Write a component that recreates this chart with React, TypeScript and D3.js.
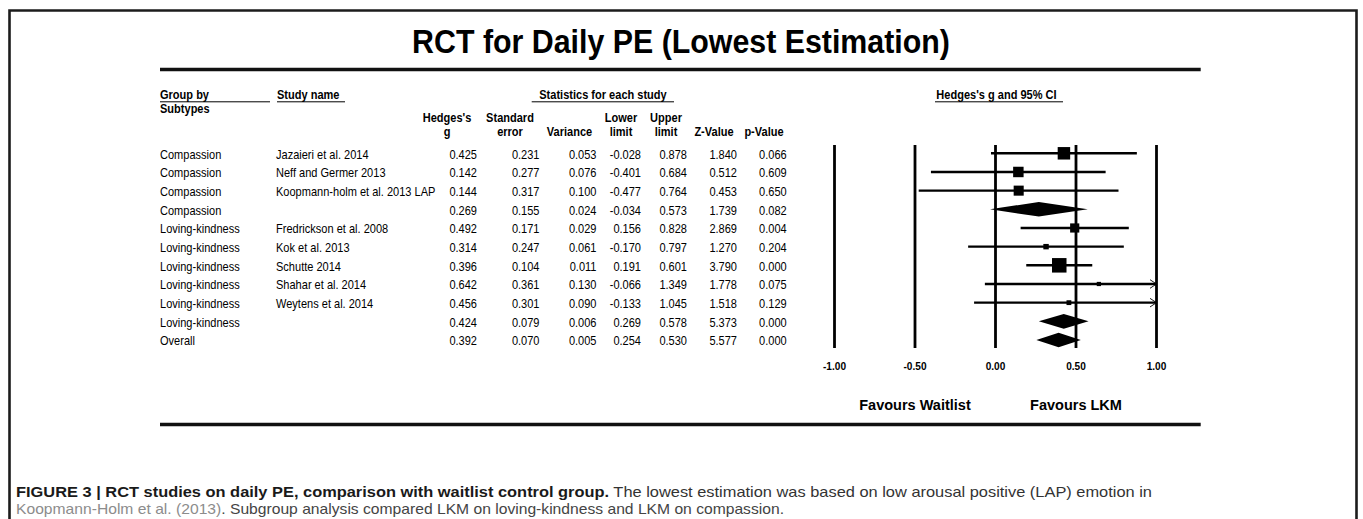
import React from 'react';
import * as d3 from 'd3';

// Rows as printed by the meta-analysis table (subgroup totals have no study name)
const groups = ['Compassion', 'Compassion', 'Compassion', 'Compassion', 'Loving-kindness', 'Loving-kindness', 'Loving-kindness', 'Loving-kindness', 'Loving-kindness', 'Loving-kindness', 'Overall'];
const studies = ['Jazaieri et al. 2014', 'Neff and Germer 2013', 'Koopmann-holm et al. 2013 LAP', '', 'Fredrickson et al. 2008', 'Kok et al. 2013', 'Schutte 2014', 'Shahar et al. 2014', 'Weytens et al. 2014', '', ''];
const hedgesG = [0.425, 0.142, 0.144, 0.269, 0.492, 0.314, 0.396, 0.642, 0.456, 0.424, 0.392];
const stdErr = [0.231, 0.277, 0.317, 0.155, 0.171, 0.247, 0.104, 0.361, 0.301, 0.079, 0.070];
const variance = [0.053, 0.076, 0.100, 0.024, 0.029, 0.061, 0.011, 0.130, 0.090, 0.006, 0.005];
const lowerLimit = [-0.028, -0.401, -0.477, -0.034, 0.156, -0.170, 0.191, -0.066, -0.133, 0.269, 0.254];
const upperLimit = [0.878, 0.684, 0.764, 0.573, 0.828, 0.797, 0.601, 1.349, 1.045, 0.578, 0.530];
const zValue = [1.840, 0.512, 0.453, 1.739, 2.869, 1.270, 3.790, 1.778, 1.518, 5.373, 5.577];
const pValue = [0.066, 0.609, 0.650, 0.082, 0.004, 0.204, 0.000, 0.075, 0.129, 0.000, 0.000];
// relative study weight (box size); 0 = summary diamond
const boxWeight = [7.4, 5.2, 4.8, 0, 4.0, 1.4, 10, 0.85, 1.1, 0, 0];

const axisTicks = [-1, -0.5, 0, 0.5, 1];
const favourLabels = [{ at: -0.5, text: 'Favours Waitlist' }, { at: 0.5, text: 'Favours LKM' }];

const W = 1363;
const H = 519;
const FONT = "'Liberation Sans', Arial, Helvetica, sans-serif";
const SQUEEZE = 0.92; // the table font is a little narrower than Arial

// d3 uses a real minus sign, the table prints a hyphen
const fmt = (v: number) => d3.format('.3f')(v).replace('\u2212', '-');
const fmtAxis = (v: number) => d3.format('.2f')(v).replace('\u2212', '-');

// numeric columns: right edge of the numbers, header lines and header centre
const numCols = [
  { values: hedgesG, right: 477, head: ['Hedges\'s', 'g'], cx: 447 },
  { values: stdErr, right: 539.5, head: ['Standard', 'error'], cx: 510 },
  { values: variance, right: 596.5, head: ['', 'Variance'], cx: 569.5 },
  { values: lowerLimit, right: 641, head: ['Lower', 'limit'], cx: 621 },
  { values: upperLimit, right: 687, head: ['Upper', 'limit'], cx: 666 },
  { values: zValue, right: 737, head: ['', 'Z-Value'], cx: 714 },
  { values: pValue, right: 786.7, head: ['', 'p-Value'], cx: 764 },
];

// narrowed text placed at (x, y)
const T = ({ x, y, anchor = 'start', sx = SQUEEZE, children, ...rest }: any) => (
  <text transform={`translate(${x},${y}) scale(${sx},1)`} textAnchor={anchor} {...rest}>{children}</text>
);

export default function App() {
  const x = d3.scaleLinear().domain([-1, 1]).range([834.5, 1156.5]);
  const y = d3.scalePoint<number>().domain(d3.range(groups.length)).range([153.3, 340]);
  const box = d3.scaleSqrt().domain([0, 10]).range([0, 14.5]);

  const [xMin, xMax] = x.domain();
  const plotTop = 145;
  const plotBottom = 348;
  const textDy = 5.3;

  return (
    <div style={{ position: 'absolute', left: 0, top: 0, width: W, height: H, background: '#fff' }}>
      <svg width={W} height={H} style={{ display: 'block', fontFamily: FONT }}>
        {/* frame */}
        <path d={`M9.5,${H + 5}V10.5H1356.5V${H + 5}`} fill="none" stroke="#1c1c1c" strokeWidth={2.6} />

        {/* title */}
        <T x={681} y={53} anchor="middle" fontSize={33} fontWeight="bold">RCT for Daily PE (Lowest Estimation)</T>
        <line x1={160} x2={1200.7} y1={69.5} y2={69.5} stroke="#111" strokeWidth={3.4} />

        {/* group headers */}
        <g fontSize={12} fontWeight="bold">
          <T x={160} y={99}>Group by</T>
          <line x1={160} x2={270} y1={101.8} y2={101.8} stroke="#000" strokeWidth={1} />
          <T x={160} y={113}>Subtypes</T>
          <T x={277} y={99}>Study name</T>
          <line x1={277} x2={345} y1={101.8} y2={101.8} stroke="#000" strokeWidth={1} />
          <T x={603} y={99} anchor="middle">Statistics for each study</T>
          <line x1={531.7} x2={674} y1={101.8} y2={101.8} stroke="#000" strokeWidth={1} />
          <T x={996.5} y={99} anchor="middle">Hedges's g and 95% CI</T>
          <line x1={935} x2={1063} y1={101.8} y2={101.8} stroke="#000" strokeWidth={1} />
        </g>

        {/* column headers */}
        <g fontSize={12} fontWeight="bold">
          {numCols.map((c, i) => (
            <g key={i}>
              {c.head[0] && <T x={c.cx} y={122} anchor="middle">{c.head[0]}</T>}
              <T x={c.cx} y={136} anchor="middle">{c.head[1]}</T>
            </g>
          ))}
        </g>

        {/* table rows */}
        <g fontSize={12}>
          {groups.map((g, i) => {
            const ty = (y(i) as number) + textDy;
            return (
              <g key={i}>
                <T x={160} y={ty}>{g}</T>
                {studies[i] && <T x={276} y={ty}>{studies[i]}</T>}
                {numCols.map((c, j) => (
                  <T key={j} x={c.right} y={ty} anchor="end">{fmt(c.values[i])}</T>
                ))}
              </g>
            );
          })}
        </g>

        {/* reference lines */}
        {axisTicks.map(t => (
          <line key={t} x1={x(t)} x2={x(t)} y1={plotTop} y2={plotBottom} stroke="#000" strokeWidth={2.8} />
        ))}

        {/* studies and summaries */}
        {hedgesG.map((g, i) => {
          const cy = y(i) as number;
          if (!studies[i]) {
            const hh = 7.3;
            const pts = [[x(lowerLimit[i]), cy], [x(g), cy - hh], [x(upperLimit[i]), cy], [x(g), cy + hh]];
            return <polygon key={i} points={pts.map(p => p.join(',')).join(' ')} fill="#000" />;
          }
          const lo = Math.max(lowerLimit[i], xMin);
          const hi = Math.min(upperLimit[i], xMax);
          const s = box(boxWeight[i]);
          const xe = x(hi);
          return (
            <g key={i}>
              <line x1={x(lo)} x2={xe} y1={cy} y2={cy} stroke="#000" strokeWidth={2.4} />
              {upperLimit[i] > xMax && (
                <polyline points={`${xe - 6.5},${cy - 4.3} ${xe},${cy} ${xe - 6.5},${cy + 4.3}`}
                  fill="none" stroke="#000" strokeWidth={0.9} />
              )}
              <rect x={x(g) - s / 2} y={cy - s / 2} width={s} height={s} fill="#000" />
            </g>
          );
        })}

        {/* axis labels */}
        <g fontSize={11} fontWeight="bold">
          {axisTicks.map(t => (
            <T key={t} x={x(t)} y={370} anchor="middle">{fmtAxis(t)}</T>
          ))}
        </g>
        <g fontSize={14.5} fontWeight="bold">
          {favourLabels.map(f => (
            <T key={f.text} x={x(f.at)} y={410} anchor="middle" sx={1}>{f.text}</T>
          ))}
        </g>
        <line x1={160} x2={1200.7} y1={424.5} y2={424.5} stroke="#111" strokeWidth={3.4} />

        {/* caption */}
        <g fontSize={15}>
          <text x={16} y={496.5} textLength={1136} lengthAdjust="spacingAndGlyphs" fill="#333">
            <tspan fontWeight="bold" fill="#1a1a1a">FIGURE 3 | RCT studies on daily PE, comparison with waitlist control group.</tspan>
            <tspan> The lowest estimation was based on low arousal positive (LAP) emotion in</tspan>
          </text>
          <text x={16} y={514} textLength={768} lengthAdjust="spacingAndGlyphs" fill="#444">
            <tspan fill="#8c8c8c">Koopmann-Holm et al. (2013)</tspan>
            <tspan>. Subgroup analysis compared LKM on loving-kindness and LKM on compassion.</tspan>
          </text>
        </g>
      </svg>
    </div>
  );
}
